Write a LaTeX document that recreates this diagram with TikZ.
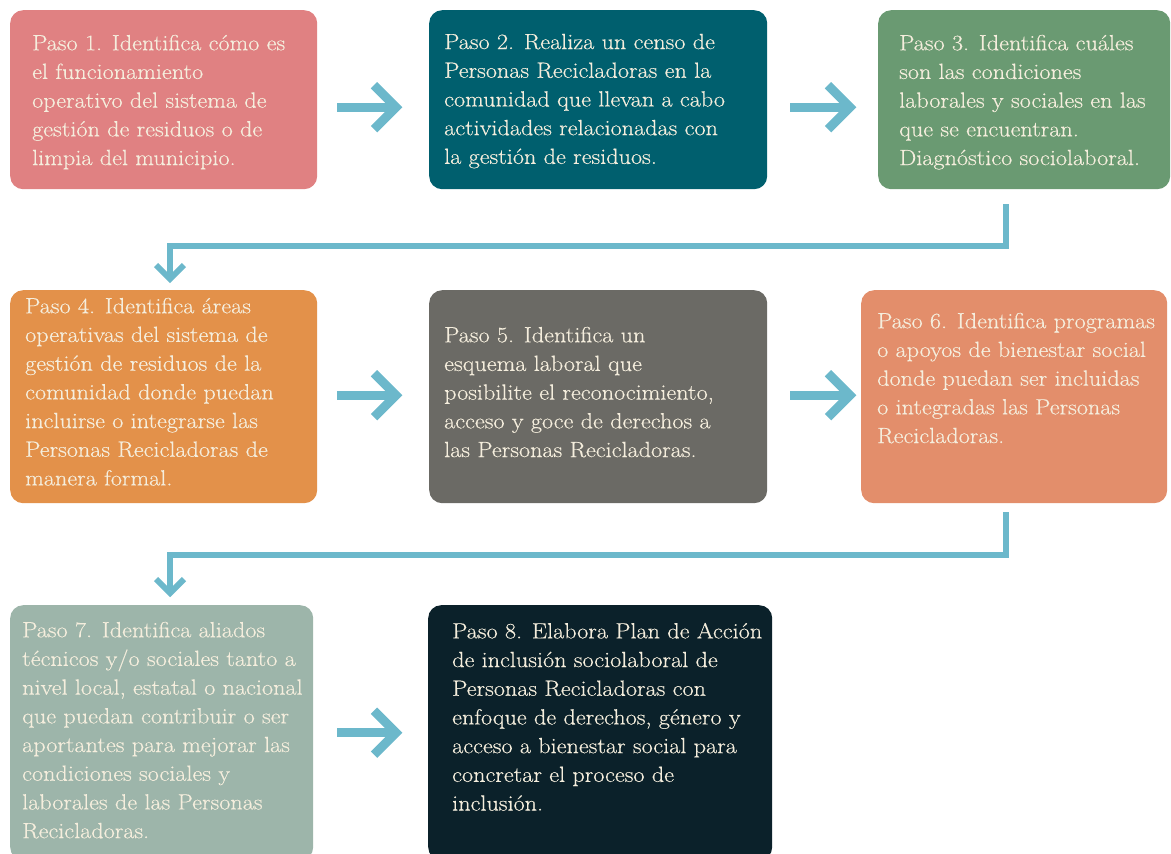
\documentclass[tikz,border=0pt]{standalone}
\usepackage{fontspec}
\setmainfont{Latin Modern Roman}[FakeStretch=1.1, FakeBold=0.3]
\usetikzlibrary{calc}
\definecolor{cA}{HTML}{E08182}
\definecolor{cB}{HTML}{005F6E}
\definecolor{cC}{HTML}{6A9A72}
\definecolor{cD}{HTML}{E3914A}
\definecolor{cE}{HTML}{6B6A65}
\definecolor{cF}{HTML}{E38E6B}
\definecolor{cG}{HTML}{9DB5AA}
\definecolor{cH}{HTML}{0B212A}
\definecolor{cream}{HTML}{F5EEDD}
\definecolor{arrowc}{HTML}{6CB8CB}
\begin{document}
\begin{tikzpicture}[x=1pt,y=-1pt,
  box/.style={fill=#1, draw=none, rounded corners=13pt, inner sep=0pt, anchor=north west},
  txt/.style={anchor=north west, inner sep=0pt, align=left, text=cream,
    font=\fontsize{22}{28.7}\selectfont},
  shaft/.style={draw=arrowc, line width=9pt},
  chev/.style={draw=arrowc, line width=9pt, line join=miter, miter limit=10},
  conn/.style={draw=arrowc, line width=6pt, line join=miter},
  chevs/.style={draw=arrowc, line width=6pt, line join=miter, miter limit=10},
]
\useasboundingbox (0,0) rectangle (1171,854);
\begin{scope}
\clip (0,0) rectangle (1171,854);
% boxes
\node[box=cA, minimum width=307, minimum height=179] (b1) at (10,10) {};
\node[box=cB, minimum width=338, minimum height=179] (b2) at (429,10) {};
\node[box=cC, minimum width=292, minimum height=179] (b3) at (878,10) {};
\node[box=cD, minimum width=307, minimum height=213] (b4) at (10,290) {};
\node[box=cE, minimum width=338, minimum height=213] (b5) at (429,290) {};
\node[box=cF, minimum width=306, minimum height=213] (b6) at (861,290) {};
\node[box=cG, minimum width=303, minimum height=255] (b7) at (10,605) {};
\node[box=cH, minimum width=344, minimum height=255] (b8) at (428,605) {};
% texts
\node[txt] (t1) at (32,34.6) {Paso 1. Identifica cómo es\\el funcionamiento\\operativo del sistema de\\gestión de residuos o de\\limpia del municipio.};
\node[txt] (t2) at (444,33.6) {Paso 2. Realiza un censo de\\Personas Recicladoras en la\\comunidad que llevan a cabo\\actividades relacionadas con\\la gestión de residuos.};
\node[txt] (t3) at (899,34.6) {Paso 3. Identifica cuáles\\son las condiciones\\laborales y sociales en las\\que se encuentran.\\Diagnóstico sociolaboral.};
\node[txt] (t4) at (25,297.6) {Paso 4. Identifica áreas\\operativas del sistema de\\gestión de residuos de la\\comunidad donde puedan\\incluirse o integrarse las\\Personas Recicladoras de\\manera formal.};
\node[txt] (t5) at (444,326.6) {Paso 5. Identifica un\\esquema laboral que\\posibilite el reconocimiento,\\acceso y goce de derechos a\\las Personas Recicladoras.};
\node[txt] (t6) at (877,312.6) {Paso 6. Identifica programas\\o apoyos de bienestar social\\donde puedan ser incluidas\\o integradas las Personas\\Recicladoras.};
\node[txt] (t7) at (22,621.6) {Paso 7. Identifica aliados\\técnicos y/o sociales tanto a\\nivel local, estatal o nacional\\que puedan contribuir o ser\\aportantes para mejorar las\\condiciones sociales y\\laborales de las Personas\\Recicladoras.};
\node[txt] (t8) at (452,622.6) {Paso 8. Elabora Plan de Acción\\de inclusión sociolaboral de\\Personas Recicladoras con\\enfoque de derechos, género y\\acceso a bienestar social para\\concretar el proceso de\\inclusión.};
% horizontal arrows
\foreach \a/\b/\sx/\ex/\dy in {b1/b2/20/-33/7.5, b2/b3/23/-28/7.5, b4/b5/20/-33/-1.5, b5/b6/23/-11/-1.5, b7/b8/24/-32/0} {
  \coordinate (s) at ($(\a.east)+(\sx,\dy)$);
  \coordinate (v) at ($(\b.west)+(\ex,\dy)$);
  \draw[shaft] (s) -- (v);
  \draw[chev] ($(v)+(-22,-22)$) -- (v) -- ($(v)+(-22,22)$);
}
% connectors between rows
\coordinate (k1) at ($(b3.south west)+(128,15)$);
\coordinate (e1) at ($(b4.north west)+(160,-11)$);
\draw[conn] (k1) |- ($(e1)+(0,-33)$) -- (e1);
\draw[chevs] ($(e1)+(-14,-14)$) -- (e1) -- ($(e1)+(14,-14)$);
\coordinate (k2) at ($(b6.south west)+(145,9)$);
\coordinate (e2) at ($(b7.north west)+(160,-12)$);
\draw[conn] (k2) |- ($(e2)+(0,-38)$) -- (e2);
\draw[chevs] ($(e2)+(-14,-14)$) -- (e2) -- ($(e2)+(14,-14)$);
\end{scope}
\end{tikzpicture}
\end{document}
